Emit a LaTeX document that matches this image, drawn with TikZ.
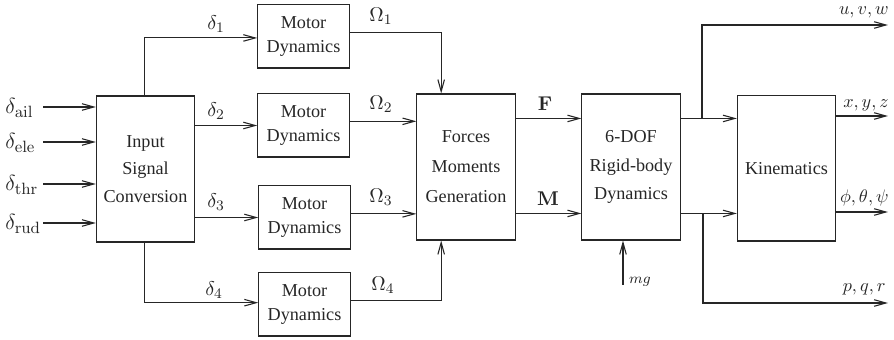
\documentclass[tikz,border=0pt]{standalone}
\usepackage[no-math]{fontspec}
\setmainfont{Liberation Serif}
\usetikzlibrary{arrows.meta,calc}
\definecolor{ink}{gray}{0.15}
\begin{document}
\begin{tikzpicture}[x=0.55pt,y=-0.55pt,color=ink,
  blk/.style={draw,line width=0.6pt,align=center,inner sep=0pt,font=\fontsize{10}{15}\selectfont},
  motorbox/.style={blk,minimum width=50.3pt,minimum height=34.7pt,font=\fontsize{10}{13.5}\selectfont},
  bigbox/.style={blk,minimum width=54pt,minimum height=80.3pt},
  wire/.style={line width=0.6pt},
  arr/.style={wire,-{Straight Barb[length=6.5pt,width=3.6pt,line width=0.6pt]}},
  lbl/.style={inner sep=0pt,font=\fontsize{11}{13}\selectfont},
  inlbl/.style={inner sep=0pt,anchor=west,font=\fontsize{13}{15}\selectfont},
  outlbl/.style={inner sep=0pt,anchor=east,font=\fontsize{10}{12}\selectfont}]
\useasboundingbox (0,0) rectangle (894,340);

% blocks
\node[bigbox] (in) at (145.5,169) {Input\\Signal\\Conversion};
\node[motorbox] (m1) at (303.5,36.5) {Motor\\Dynamics};
\node[motorbox] (m2) at (303.5,125.5) {Motor\\Dynamics};
\node[motorbox] (m3) at (304.5,217.5) {Motor\\Dynamics};
\node[motorbox] (m4) at (304.5,304.5) {Motor\\Dynamics};
\node[bigbox,font=\fontsize{10}{16.5}\selectfont] (fm) at (466,167) {Forces\\Moments\\Generation};
\node[bigbox,font=\fontsize{10}{15.5}\selectfont] (rb) at (631,167) {6-DOF\\Rigid-body\\Dynamics};
\node[bigbox,minimum height=79.8pt] (kin) at (786.5,168.5) {Kinematics};

% inputs
\coordinate (iail) at (43,107);
\coordinate (iele) at (43,142);
\coordinate (ithr) at (43,184);
\coordinate (irud) at (43,223);
\draw[arr] (iail) -- (iail -| in.west);
\draw[arr] (iele) -- (iele -| in.west);
\draw[arr] (ithr) -- (ithr -| in.west);
\draw[arr] (irud) -- (irud -| in.west);
\node[inlbl] (lail) at (5,108) {$\delta_{\mathrm{ail}}$};
\node[inlbl] (lele) at (5,143) {$\delta_{\mathrm{ele}}$};
\node[inlbl] (lthr) at (5,185) {$\delta_{\mathrm{thr}}$};
\node[inlbl] (lrud) at (5,224) {$\delta_{\mathrm{rud}}$};

% delta signals
\draw[arr] ([xshift=-0.8pt]in.north) |- ([yshift=-0.8pt]m1.west);
\draw[arr] (in.east |- m2.west) -- (m2.west);
\draw[arr] (in.east |- m3.west) -- (m3.west);
\draw[arr] ([xshift=-0.8pt]in.south) |- ([yshift=1pt]m4.west);
\node[lbl] (d1) at (216,24) {$\delta_1$};
\node[lbl] (d2) at (216,111) {$\delta_2$};
\node[lbl] (d3) at (216,202) {$\delta_3$};
\node[lbl] (d4) at (214,290) {$\delta_4$};

% Omega signals
\coordinate (fmtop) at ($(fm.north west)!0.25!(fm.north east)$);
\coordinate (fmbot) at ($(fm.south west)!0.25!(fm.south east)$);
\coordinate (o1s) at ([yshift=2pt]m1.east);
\coordinate (o2s) at ([yshift=2.3pt]m2.east);
\coordinate (o3s) at ([yshift=2pt]m3.east);
\coordinate (o4s) at ([yshift=2.3pt]m4.east);
\draw[arr] (o1s) -| (fmtop);
\draw[arr] (o2s) -- (o2s -| fm.west);
\draw[arr] (o3s) -- (o3s -| fm.west);
\draw[arr] (o4s) -| (fmbot);
\node[lbl] (o1) at (381,16) {$\Omega_1$};
\node[lbl] (o2) at (381,104) {$\Omega_2$};
\node[lbl] (o3) at (381,197) {$\Omega_3$};
\node[lbl] (o4) at (383,285) {$\Omega_4$};

% F and M
\coordinate (Fo) at ($(fm.north east)+(0,25)$);
\coordinate (Mo) at ($(fm.north east)+(0,120)$);
\draw[arr] (Fo) -- (Fo -| rb.west);
\draw[arr] (Mo) -- (Mo -| rb.west);
\node[lbl] (lF) at (545,104) {$\mathbf{F}$};
\node[lbl] (lM) at (548,199) {$\mathbf{M}$};

% gravity
\coordinate (mgs) at (623,285);
\draw[arr] (mgs) -- (mgs |- rb.south);
\node[inner sep=0pt,font=\fontsize{8}{10}\selectfont] (lmg) at (640,282) {$mg$};

% rigid body outputs
\coordinate (Vo) at (Fo -| rb.east);
\coordinate (Wo) at (Mo -| rb.east);
\draw[arr] (Vo) -- (Vo -| kin.west);
\draw[arr] (Wo) -- (Wo -| kin.west);
\coordinate (b1x) at (702,0);
\coordinate (b2x) at (703,0);
\coordinate (b1) at (b1x |- Vo);
\coordinate (b2) at (b2x |- Wo);
\coordinate (uvwE) at (888,25);
\coordinate (pqrE) at (888,303);
\draw[arr] (b1) |- (uvwE);
\draw[arr] (b2) |- (pqrE);

% kinematics outputs
\coordinate (xyzE) at (888,116);
\coordinate (angE) at (888,212);
\draw[arr] (xyzE -| kin.east) -- (xyzE);
\draw[arr] (angE -| kin.east) -- (angE);

\node[outlbl] (luvw) at (889,12) {$u,v,w$};
\node[outlbl] (lxyz) at (889,105) {$x,y,z$};
\node[outlbl] (lang) at (889,198) {$\phi,\theta,\psi$};
\node[outlbl] (lpqr) at (886,289) {$p,q,r$};
\end{tikzpicture}
\end{document}
